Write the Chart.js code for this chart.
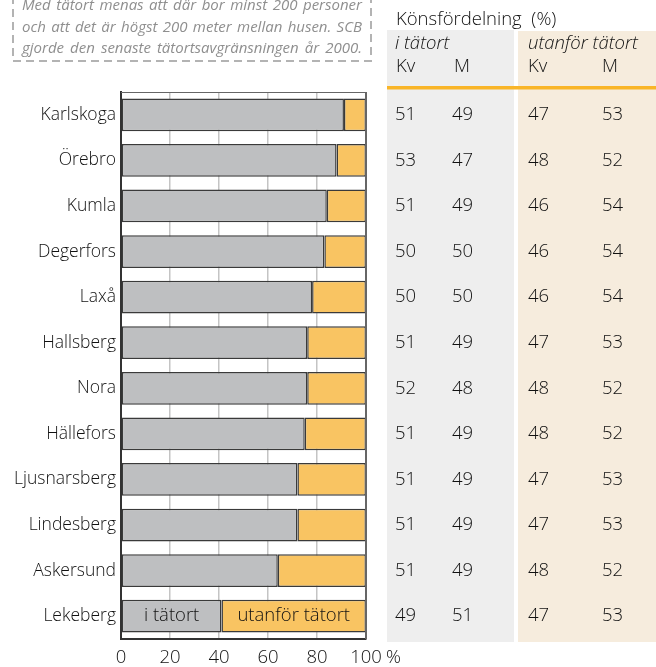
<!DOCTYPE html>
<html>
<head>
<meta charset="utf-8">
<script src="https://cdn.jsdelivr.net/npm/chart.js@4"></script>
<style>
  body { margin: 0; background: #fff; }
  #wrap { position: relative; width: 656px; height: 667px; overflow: hidden; }
  #myChart { position: absolute; left: 0; top: 0; }
  #note {
    position: absolute; left: 22px; top: -6px; width: 340px;
    font-family: "Open Sans", sans-serif; font-style: italic; font-size: 15px; font-weight: 400;
    color: #8f8f8f; line-height: 21.5px;
  }
  #note span { display: block; text-align: justify; text-align-last: justify; }
</style>
</head>
<body>
<div id="wrap">
  <canvas id="myChart" width="656" height="667"></canvas>
  <div id="note">
    <span>Med tätort menas att där bor minst 200 personer</span>
    <span>och att det är högst 200 meter mellan husen. SCB</span>
    <span>gjorde den senaste tätortsavgränsningen år 2000.</span>
  </div>
</div>
<script>
const kommuner = ['Karlskoga','Örebro','Kumla','Degerfors','Laxå','Hallsberg','Nora','Hällefors','Ljusnarsberg','Lindesberg','Askersund','Lekeberg'];
const iTatort = [91, 88, 84, 83, 78, 76, 76, 75, 72, 72, 64, 41];
const utanforTatort = [9, 12, 16, 17, 22, 24, 24, 25, 28, 28, 36, 59];
const tatortKv = [51, 53, 51, 50, 50, 51, 52, 51, 51, 51, 51, 49];
const tatortM = [49, 47, 49, 50, 50, 49, 48, 49, 49, 49, 49, 51];
const utanforKv = [47, 48, 46, 46, 46, 47, 48, 48, 47, 47, 48, 47];
const utanforM = [53, 52, 54, 54, 54, 53, 52, 52, 53, 53, 52, 53];
const xTicks = [0, 20, 40, 60, 80, 100];

const FONT = '"Open Sans", sans-serif';
const W = 300;
const TXT = '#111';

// table, header, frame, note box and in-bar legend
const extras = {
   id: 'extras',
   beforeDraw(chart) {
      const c = chart.ctx;
      c.save();
      // dashed note box
      c.strokeStyle = '#b3b3b3';
      c.lineWidth = 2;
      c.setLineDash([8, 5]);
      c.beginPath();
      c.moveTo(13, -4);
      c.lineTo(13, 61);
      c.lineTo(371, 61);
      c.lineTo(371, -4);
      c.stroke();
      c.setLineDash([]);

      c.fillStyle = '#eeeeee';
      c.fillRect(387, 30, 127, 612);
      c.fillStyle = '#f6ecdd';
      c.fillRect(518, 31, 138, 611);
      c.fillStyle = '#f9b528';
      c.fillRect(387, 86, 269, 3.5);

      c.fillStyle = TXT;
      c.textBaseline = 'middle';
      c.textAlign = 'left';
      c.font = W + ' 18.5px ' + FONT;
      c.fillText('Könsfördelning  (%)', 396, 20);
      c.font = 'italic ' + W + ' 18.5px ' + FONT;
      c.fillText('i tätort', 395, 44);
      c.fillText('utanför tätort', 528, 44);
      c.font = W + ' 18.5px ' + FONT;
      c.fillText('Kv', 396, 67);
      c.fillText('M', 454, 67);
      c.fillText('Kv', 528, 67);
      c.fillText('M', 602, 67);
      c.restore();
   },
   afterDraw(chart) {
      const c = chart.ctx;
      const a = chart.chartArea;
      const y = chart.scales.y;
      const x = chart.scales.x;
      c.save();
      // top and right frame
      c.strokeStyle = '#666';
      c.lineWidth = 1;
      c.beginPath();
      c.moveTo(a.left, a.top + 0.5);
      c.lineTo(a.right, a.top + 0.5);
      c.stroke();
      c.lineWidth = 2;
      c.beginPath();
      c.moveTo(x.getPixelForValue(100), a.top);
      c.lineTo(x.getPixelForValue(100), a.bottom);
      c.stroke();

      c.fillStyle = TXT;
      c.textBaseline = 'middle';
      c.font = W + ' 18.5px ' + FONT;
      c.textAlign = 'left';
      kommuner.forEach((k, i) => {
         const py = y.getPixelForValue(i);
         c.fillText(tatortKv[i], 395, py);
         c.fillText(tatortM[i], 452, py);
         c.fillText(utanforKv[i], 528, py);
         c.fillText(utanforM[i], 602, py);
      });
      c.fillText('%', 386, 658);

      // legend inside last bar
      const last = kommuner.length - 1;
      const b0 = chart.getDatasetMeta(0).data[last];
      const b1 = chart.getDatasetMeta(1).data[last];
      c.textAlign = 'center';
      c.fillText('i tätort', (b0.base + b0.x) / 2, b0.y);
      c.fillText('utanför tätort', (b1.base + b1.x) / 2, b1.y);
      c.restore();
   }
};

const ctx = document.getElementById('myChart').getContext('2d');
new Chart(ctx, {
   type: 'bar',
   data: {
      labels: kommuner,
      datasets: [{
         label: 'i tätort',
         data: iTatort,
         backgroundColor: '#bebfc1',
         borderColor: '#3a3a3a',
         borderWidth: 1.5,
         borderSkipped: false,
         inflateAmount: 0,
         barPercentage: 0.72,
         categoryPercentage: 1
      }, {
         label: 'utanför tätort',
         data: utanforTatort,
         backgroundColor: '#f9c462',
         borderColor: '#3a3a3a',
         borderWidth: 1.5,
         borderSkipped: false,
         inflateAmount: 0,
         barPercentage: 0.72,
         categoryPercentage: 1
      }]
   },
   options: {
      indexAxis: 'y',
      responsive: false,
      animation: false,
      layout: { padding: { left: 0, right: 290, top: 92, bottom: 0 } },
      plugins: { legend: { display: false }, tooltip: { enabled: false } },
      scales: {
         x: {
            stacked: true,
            min: 0,
            max: 100,
            afterBuildTicks: (s) => { s.ticks = xTicks.map(v => ({ value: v })); },
            afterFit: (s) => { s.height = 28; },
            grid: {
               drawTicks: false,
               color: '#c4c4c4',
               lineWidth: 1.5
            },
            border: { color: '#333', width: 2 },
            ticks: {
               padding: 8,
               color: TXT,
               font: { family: FONT, size: 18.5, weight: W }
            }
         },
         y: {
            stacked: true,
            afterFit: (s) => { s.width = 121; },
            grid: { display: false, drawTicks: false },
            border: { color: '#333', width: 2 },
            ticks: {
               padding: 5,
               color: TXT,
               font: { family: FONT, size: 17.5, weight: W }
            }
         }
      }
   },
   plugins: [extras]
});
</script>
</body>
</html>
